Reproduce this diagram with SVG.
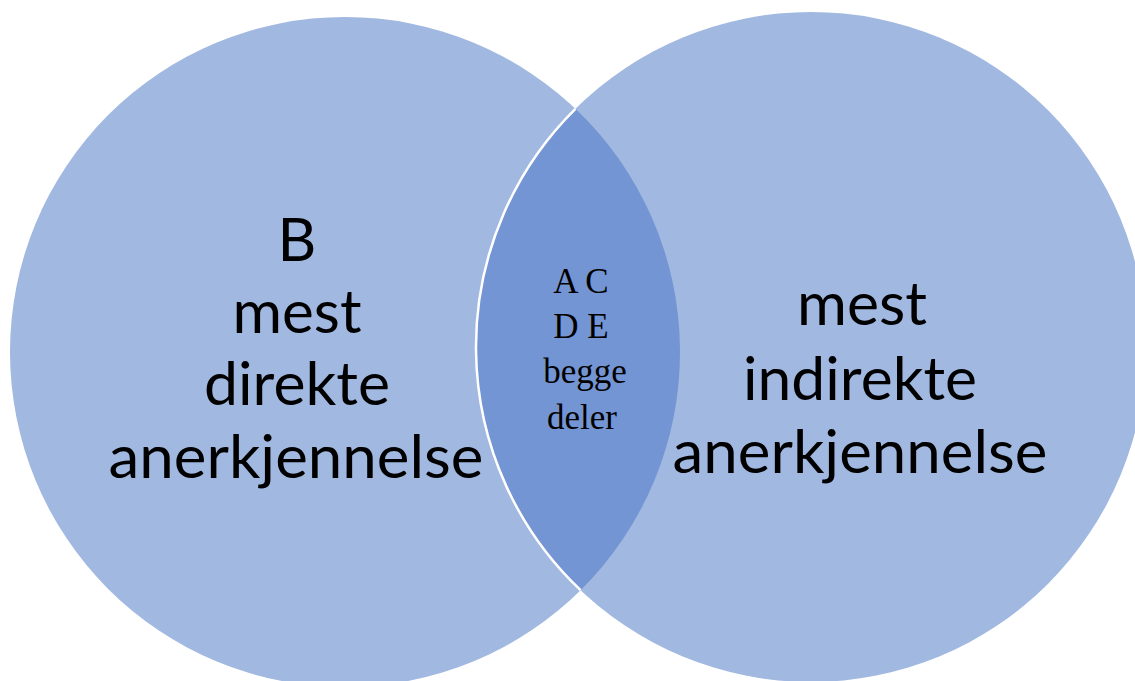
<svg xmlns="http://www.w3.org/2000/svg" width="1135" height="681" viewBox="0 0 1135 681">
  <style>
    .circle { fill: #A1B8E1; }
    .overlap { fill: #7495D3; }
    .edge { fill: none; stroke: #FFFFFF; stroke-width: 2.5; }
    .big { font-family: Lato, "Liberation Sans", sans-serif; font-size: 60px; fill: #000000; text-anchor: middle; }
    .small { font-family: "Liberation Serif", "Times New Roman", serif; font-size: 35px; fill: #000000; text-anchor: middle; }
  </style>
  <rect width="1135" height="681" fill="#FFFFFF"/>

  <g id="circle-direct">
    <circle class="circle" cx="345" cy="352" r="335"/>
  </g>
  <g id="circle-indirect">
    <circle class="circle" cx="811" cy="347" r="335"/>
  </g>
  <g id="overlap">
    <path class="overlap" d="M575.42 108.82 A335 335 0 0 1 580.58 590.18 A335 335 0 0 1 575.42 108.82 Z"/>
  </g>
  <g id="connectors">
    <path class="edge" d="M580.58 590.18 A335 335 0 0 1 575.42 108.82"/>
  </g>

  <g id="label-direct">
    <text class="big" x="297" y="261">B</text>
    <text class="big" x="297" y="333" textLength="129" lengthAdjust="spacingAndGlyphs">mest</text>
    <text class="big" x="297" y="405" textLength="186" lengthAdjust="spacingAndGlyphs">direkte</text>
    <text class="big" x="296" y="478" textLength="375" lengthAdjust="spacingAndGlyphs">anerkjennelse</text>
  </g>
  <g id="label-indirect">
    <text class="big" x="862" y="325" textLength="130" lengthAdjust="spacingAndGlyphs">mest</text>
    <text class="big" x="860" y="400" textLength="234" lengthAdjust="spacingAndGlyphs">indirekte</text>
    <text class="big" x="860" y="473" textLength="375" lengthAdjust="spacingAndGlyphs">anerkjennelse</text>
  </g>
  <g id="label-overlap">
    <text class="small" x="581" y="293">A C</text>
    <text class="small" x="581" y="338">D E</text>
    <text class="small" x="585" y="383">begge</text>
    <text class="small" x="582" y="429">deler</text>
  </g>
</svg>
